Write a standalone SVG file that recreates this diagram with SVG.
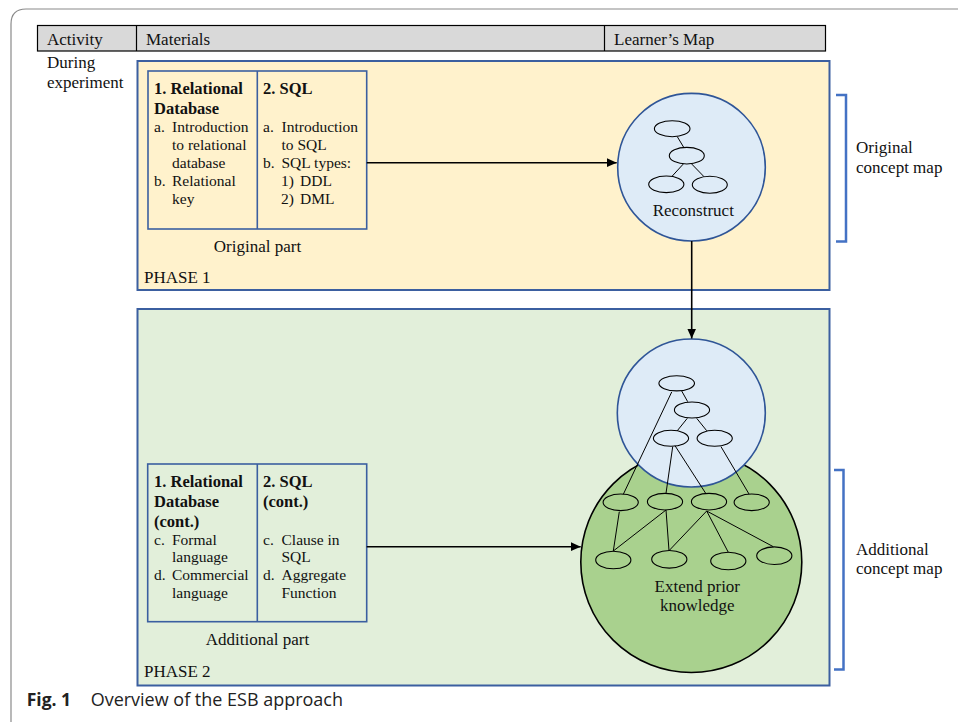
<svg xmlns="http://www.w3.org/2000/svg" width="958" height="722" viewBox="0 0 958 722">
<defs>
<style>
.t{font-family:"Liberation Serif","Times New Roman",serif;fill:#111;}
.h{font-size:17px;}
.b{font-size:16.5px;font-weight:bold;}
.i{font-size:15.5px;}
.m{font-size:17px;}
.cap{font-family:"Open Sans","Noto Sans",sans-serif;fill:#222;font-size:17.5px;}
.phase{stroke:#3b5fa0;stroke-width:2;}
.ibox{fill:none;stroke:#3b5fa0;stroke-width:1.6;}
.el{fill:none;stroke:#000;stroke-width:1.1;}
.ln{stroke:#000;stroke-width:1;fill:none;}
.conn{stroke:#000;stroke-width:1.6;fill:none;}
.br{fill:none;stroke:#4472c4;stroke-width:2.5;}
</style>
<marker id="ah" viewBox="0 0 10 10" refX="10" refY="5" markerWidth="10" markerHeight="10" markerUnits="userSpaceOnUse" orient="auto">
<path d="M0,0.5 L10,5 L0,9.5 z" fill="#000"/>
</marker>
</defs>
<rect width="958" height="722" fill="#fff"/>
<path d="M11,740 V24 Q11,9 26,9 H970" fill="none" stroke="#8a8a8a" stroke-width="1.2"/>

<g id="header">
<rect x="37.5" y="25.5" width="788" height="25.5" fill="#d9d9d9" stroke="#000" stroke-width="1.2"/>
<line x1="136.5" y1="25.5" x2="136.5" y2="51" stroke="#000" stroke-width="1.2"/>
<line x1="604.5" y1="25.5" x2="604.5" y2="51" stroke="#000" stroke-width="1.2"/>
<text class="t h" x="47" y="44.5">Activity</text>
<text class="t h" x="146" y="44.5">Materials</text>
<text class="t h" x="614" y="44.5">Learner’s Map</text>
</g>
<g id="activity">
<text class="t h" x="47" y="67.5">During</text>
<text class="t h" x="47" y="87.5">experiment</text>
</g>

<g id="phase1">
<rect class="phase" x="137.5" y="61" width="692" height="229" fill="#fff2cc"/>
<text class="t m" x="144" y="282.5">PHASE 1</text>
</g>
<g id="original-part">
<rect class="ibox" x="148" y="71" width="218.7" height="158"/>
<line x1="257.3" y1="71" x2="257.3" y2="229" stroke="#3b5fa0" stroke-width="1.6"/>
<text class="t b" x="154" y="94.3">1. Relational</text>
<text class="t b" x="154" y="114.3">Database</text>
<text class="t i" x="154" y="132.3">a.</text><text class="t i" x="172" y="132.3">Introduction</text>
<text class="t i" x="172" y="150.2">to relational</text>
<text class="t i" x="172" y="168">database</text>
<text class="t i" x="154" y="186">b.</text><text class="t i" x="172" y="186">Relational</text>
<text class="t i" x="172" y="203.5">key</text>
<text class="t b" x="263" y="94.3">2. SQL</text>
<text class="t i" x="263" y="132.3">a.</text><text class="t i" x="281.5" y="132.3">Introduction</text>
<text class="t i" x="281.5" y="150.2">to SQL</text>
<text class="t i" x="263" y="168">b.</text><text class="t i" x="281.5" y="168">SQL types:</text>
<text class="t i" x="281" y="186">1)</text><text class="t i" x="300" y="186">DDL</text>
<text class="t i" x="281" y="203.5">2)</text><text class="t i" x="300" y="203.5">DML</text>
<text class="t m" x="257.5" y="252" text-anchor="middle">Original part</text>
</g>

<g id="reconstruct">
<circle cx="691.5" cy="167.2" r="73.8" fill="#deebf7" stroke="#2f5597" stroke-width="1.6"/>
<line class="ln" x1="677.3" y1="136.7" x2="683.7" y2="147.3"/>
<line class="ln" x1="683.3" y1="164" x2="672.3" y2="176"/>
<line class="ln" x1="691.7" y1="164" x2="704" y2="176.7"/>
<ellipse class="el" cx="672.2" cy="128.7" rx="17.8" ry="8"/>
<ellipse class="el" cx="686.8" cy="155.7" rx="17.5" ry="8.3"/>
<ellipse class="el" cx="666.3" cy="184.3" rx="17.6" ry="8.3"/>
<ellipse class="el" cx="709.8" cy="184.7" rx="17.5" ry="8.5"/>
<text class="t m" x="693.3" y="216" text-anchor="middle">Reconstruct</text>
</g>

<g id="original-concept-map">
<path class="br" d="M836,95 H846 V241.5 H836"/>
<text class="t m" x="856" y="153">Original</text>
<text class="t m" x="856" y="173">concept map</text>
</g>

<g id="phase2">
<rect class="phase" x="137.5" y="309" width="692" height="376.5" fill="#e2efda"/>
<text class="t m" x="144" y="677">PHASE 2</text>
</g>
<g id="additional-part">
<rect class="ibox" x="147.7" y="464" width="219" height="157.7"/>
<line x1="257.3" y1="464" x2="257.3" y2="621.7" stroke="#3b5fa0" stroke-width="1.6"/>
<text class="t b" x="154" y="487">1. Relational</text>
<text class="t b" x="154" y="507">Database</text>
<text class="t b" x="154" y="527">(cont.)</text>
<text class="t i" x="154" y="544.5">c.</text><text class="t i" x="172" y="544.5">Formal</text>
<text class="t i" x="172" y="562.3">language</text>
<text class="t i" x="154" y="580">d.</text><text class="t i" x="172" y="580">Commercial</text>
<text class="t i" x="172" y="598">language</text>
<text class="t b" x="263" y="487">2. SQL</text>
<text class="t b" x="263" y="507">(cont.)</text>
<text class="t i" x="263" y="544.5">c.</text><text class="t i" x="281.5" y="544.5">Clause in</text>
<text class="t i" x="281.5" y="562.3">SQL</text>
<text class="t i" x="263" y="580">d.</text><text class="t i" x="281.5" y="580">Aggregate</text>
<text class="t i" x="281.5" y="598">Function</text>
<text class="t m" x="257.5" y="644.5" text-anchor="middle">Additional part</text>
</g>

<g id="extend">
<circle cx="691.3" cy="562" r="110.5" fill="#a9d18e" stroke="#000" stroke-width="1.6"/>
<circle cx="691.3" cy="413" r="74" fill="#deebf7" stroke="#2f5597" stroke-width="1.6"/>
<line class="ln" x1="681.7" y1="391" x2="687.7" y2="401.7"/>
<line class="ln" x1="671.7" y1="392" x2="623.3" y2="494.3"/>
<line class="ln" x1="687.3" y1="418.3" x2="677.3" y2="430.7"/>
<line class="ln" x1="696.7" y1="418.3" x2="706.7" y2="430.7"/>
<line class="ln" x1="672.7" y1="446.7" x2="666" y2="493.3"/>
<line class="ln" x1="675" y1="445.7" x2="705.7" y2="493.3"/>
<line class="ln" x1="721" y1="446.7" x2="749" y2="494"/>
<line class="ln" x1="619.3" y1="511.7" x2="613.3" y2="551"/>
<line class="ln" x1="666" y1="510" x2="613.3" y2="551"/>
<line class="ln" x1="666" y1="510" x2="669" y2="550.7"/>
<line class="ln" x1="706.7" y1="511" x2="669" y2="550.7"/>
<line class="ln" x1="706.7" y1="511" x2="728.3" y2="552.3"/>
<line class="ln" x1="706.7" y1="511" x2="773.3" y2="546.7"/>
<ellipse class="el" cx="676.7" cy="383.3" rx="17.8" ry="7.6"/>
<ellipse class="el" cx="692" cy="410" rx="17.6" ry="8"/>
<ellipse class="el" cx="671" cy="438.3" rx="17.6" ry="8"/>
<ellipse class="el" cx="714.7" cy="438.3" rx="17.6" ry="8"/>
<ellipse class="el" cx="620.7" cy="502.3" rx="17.6" ry="8.3"/>
<ellipse class="el" cx="665" cy="501.7" rx="17.6" ry="8.3"/>
<ellipse class="el" cx="709" cy="501.7" rx="17.6" ry="8.3"/>
<ellipse class="el" cx="751.7" cy="502.3" rx="17.6" ry="8.3"/>
<ellipse class="el" cx="613.3" cy="560" rx="17.6" ry="8.8"/>
<ellipse class="el" cx="669.3" cy="559.3" rx="17.6" ry="8.8"/>
<ellipse class="el" cx="728.3" cy="561" rx="17.6" ry="8.8"/>
<ellipse class="el" cx="774.3" cy="555.7" rx="17.6" ry="8.8"/>
<text class="t m" x="697.3" y="591.5" text-anchor="middle">Extend prior</text>
<text class="t m" x="697.3" y="610.5" text-anchor="middle">knowledge</text>
</g>

<g id="additional-concept-map">
<path class="br" d="M834,470 H843.5 V669.5 H834"/>
<text class="t m" x="856" y="555">Additional</text>
<text class="t m" x="856" y="574">concept map</text>
</g>

<g id="connectors">
<line class="conn" x1="366.7" y1="162.7" x2="616.7" y2="162.7" marker-end="url(#ah)"/>
<line class="conn" x1="691.7" y1="241" x2="691.7" y2="338.5" marker-end="url(#ah)"/>
<line class="conn" x1="366.7" y1="546.7" x2="580.7" y2="546.7" marker-end="url(#ah)"/>
</g>

<g id="caption">
<text class="cap" x="26.7" y="705.5"><tspan font-weight="bold">Fig. 1</tspan></text>
<text class="cap" x="90.7" y="705.5" textLength="252.3" lengthAdjust="spacingAndGlyphs">Overview of the ESB approach</text>
</g>
</svg>
